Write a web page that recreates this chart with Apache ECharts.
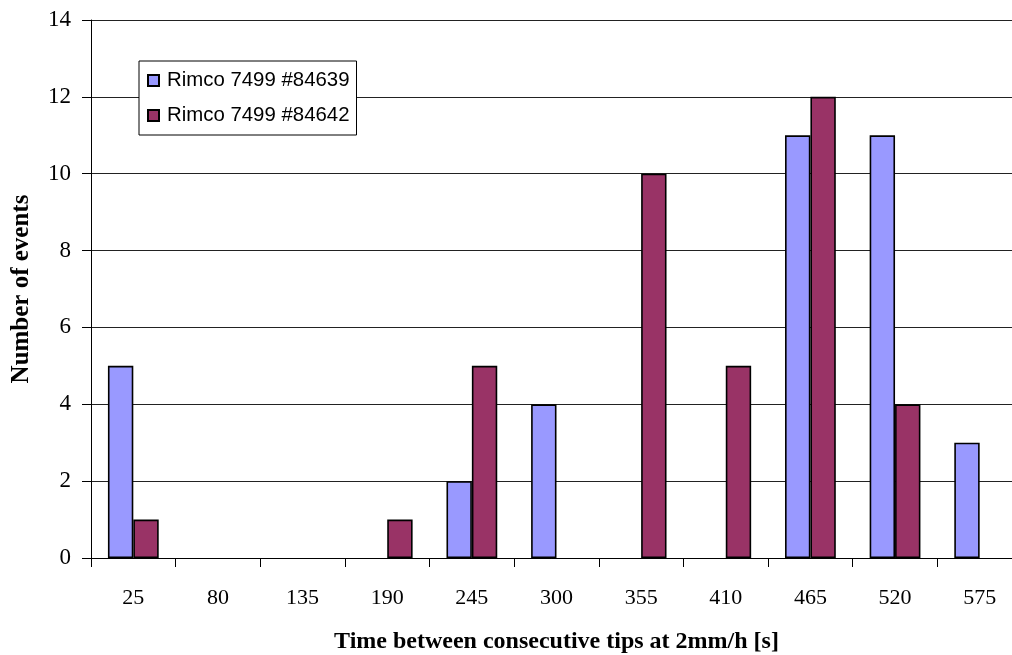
<!DOCTYPE html>
<html><head><meta charset="utf-8">
<script src="https://cdn.jsdelivr.net/npm/echarts@6/dist/echarts.min.js"></script>
<style>html,body{margin:0;padding:0;background:#fff;overflow:hidden}#c{width:1012px;height:655px}</style>
</head><body><div id="c"></div>
<script>
const categories = ['25','80','135','190','245','300','355','410','465','520','575'];
const seriesNames = ['Rimco 7499 #84639', 'Rimco 7499 #84642'];
const values84639 = [5, 0, 0, 0, 2, 4, 0, 0, 11, 11, 3];
const values84642 = [1, 0, 0, 1, 5, 0, 10, 5, 12, 4, 0];
const yTicks = [0, 2, 4, 6, 8, 10, 12, 14];

// zero-height bars are not drawn (as in the original), so no border line for them
const asBarData = arr => arr.map(v => v === 0 ? {value: v, itemStyle: {borderWidth: 0, opacity: 0}} : v);

const chart = echarts.init(document.getElementById('c'), null, {renderer: 'canvas'});
const serif = 'Liberation Serif, Times New Roman, serif';
chart.setOption({
  animation: false,
  backgroundColor: '#fff',
  // the original plot area runs past the right edge of the picture
  grid: {left: 91, width: 931, top: 20, height: 538, containLabel: false, outerBoundsMode: 'none'},
  legend: {
    orient: 'vertical', left: 139, top: 61,
    padding: [9, 7, 9, 8], itemGap: 14,
    borderColor: '#000', borderWidth: 1, backgroundColor: '#fff',
    itemWidth: 11, itemHeight: 11, icon: 'rect',
    textStyle: {fontFamily: 'Liberation Sans, Arial, sans-serif', fontSize: 20.4, color: '#000', lineHeight: 21, padding: [0, 0, 0, 3]},
    data: seriesNames
  },
  xAxis: {
    type: 'category', data: categories,
    axisLine: {lineStyle: {color: '#000', width: 1}},
    axisTick: {show: true, alignWithLabel: false, length: 9, lineStyle: {color: '#000'}},
    axisLabel: {fontFamily: serif, fontSize: 22, color: '#000', margin: 29},
    name: 'Time between consecutive tips at 2mm/h [s]',
    nameLocation: 'middle', nameGap: 72,
    nameTextStyle: {fontFamily: serif, fontSize: 24, fontWeight: 'bold', color: '#000'}
  },
  yAxis: {
    type: 'value', min: 0, max: 14, interval: 2,
    axisLine: {show: true, lineStyle: {color: '#000', width: 1}},
    axisTick: {show: true, length: 9, lineStyle: {color: '#000'}},
    axisLabel: {fontFamily: serif, fontSize: 23, color: '#000', margin: 20,
      formatter: v => yTicks.includes(v) ? String(v) : ''},
    splitLine: {show: true, lineStyle: {color: '#222', width: 1}},
    name: 'Number of events', nameLocation: 'middle', nameGap: 57,
    nameTextStyle: {fontFamily: serif, fontSize: 25, fontWeight: 'bold', color: '#000'}
  },
  series: [
    {name: seriesNames[0], type: 'bar', data: asBarData(values84639), barWidth: '30%', barGap: '0%',
     itemStyle: {color: '#9999FF', borderColor: '#000', borderWidth: 1.6}},
    {name: seriesNames[1], type: 'bar', data: asBarData(values84642), barWidth: '30%', barGap: '0%',
     itemStyle: {color: '#993366', borderColor: '#000', borderWidth: 1.6}}
  ]
});
</script></body></html>
